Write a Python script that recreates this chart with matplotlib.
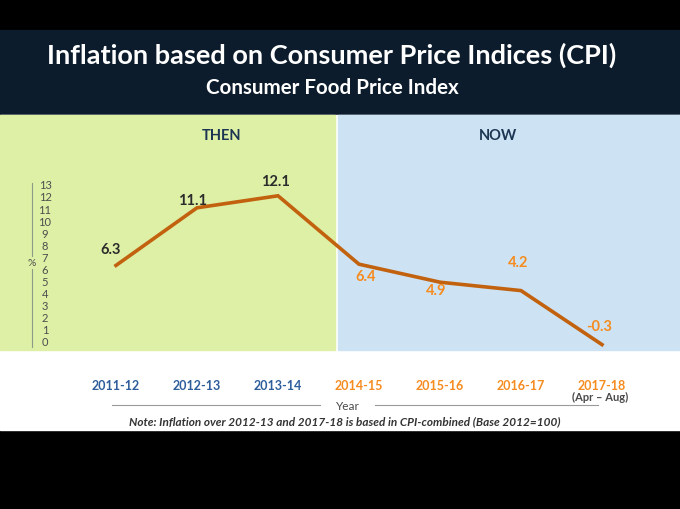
import matplotlib
matplotlib.use("Agg")
import matplotlib.pyplot as plt
from matplotlib.patches import Rectangle
from matplotlib.lines import Line2D

plt.rcParams['font.family'] = ['Lato', 'DejaVu Sans']

# data
years = ['2011-12', '2012-13', '2013-14', '2014-15', '2015-16', '2016-17', '2017-18']
inflation = [6.3, 11.1, 12.1, 6.4, 4.9, 4.2, -0.3]
n_then = 3
yticks = list(range(0, 14))

W, H = 680, 509
def fx(px):
    return px / W
def fy(py):
    return 1 - py / H

fig = plt.figure(figsize=(6.8, 5.09), dpi=100, facecolor='black')

# fonds
fig.add_artist(Rectangle((0, fy(115)), 1, (115 - 30) / H, transform=fig.transFigure,
                         color='#0d1c2c', zorder=0))
fig.add_artist(Rectangle((0, fy(430)), 1, (430 - 115) / H, transform=fig.transFigure,
                         color='white', zorder=0))
fig.add_artist(Rectangle((0, fy(350)), fx(335), (350 - 115) / H, transform=fig.transFigure,
                         color='#ddf0a6', zorder=0))
fig.add_artist(Rectangle((fx(338), fy(350)), 1 - fx(338), (350 - 115) / H, transform=fig.transFigure,
                         color='#cde3f3', zorder=0))

fig.text(fx(332), fy(55), 'Inflation based on Consumer Price Indices (CPI)', color='white',
         fontsize=19.5, fontweight='bold', ha='center', va='center')
fig.text(fx(332), fy(88), 'Consumer Food Price Index', color='white',
         fontsize=14.8, fontweight='bold', ha='center', va='center')
fig.text(fx(222), fy(136), 'THEN', color='#1c3553', fontsize=10.5, fontweight='bold',
         ha='center', va='center')
fig.text(fx(498), fy(136), 'NOW', color='#1c3553', fontsize=10.5, fontweight='bold',
         ha='center', va='center')

# courbe
ylo, yhi = -0.5, 13.2
px_unit = 12
top_px = 185 - (yhi - 13) * px_unit
bot_px = 341 - ylo * px_unit
ax = fig.add_axes([fx(116), fy(bot_px), fx(602) - fx(116), (bot_px - top_px) / H])
ax.set_xlim(0, len(years) - 1)
ax.set_ylim(ylo, yhi)
ax.patch.set_alpha(0)
for s in ax.spines.values():
    s.set_visible(False)
xs = list(range(len(years)))
ax.plot(xs, inflation, color='#c2620f', lw=2.6, solid_joinstyle='miter', clip_on=False)

offsets = [(-4, 11), (-3, 5), (-2, 10), (5, -9.5), (-3, -6), (-2, 20), (-2, 13)]
for i, v in enumerate(inflation):
    col = '#2b2b2b' if i < n_then else '#f68b1f'
    ax.annotate(f'{v}', (xs[i], v), xytext=offsets[i], textcoords='offset points',
                ha='center', va='center', fontsize=10.5, fontweight='bold', color=col)

ax.set_yticks([])
ax.set_xticks(xs)
ax.set_xticklabels(years, fontsize=9, fontweight='bold')
ax.tick_params(axis='x', length=0, pad=24)
for i, lab in enumerate(ax.get_xticklabels()):
    lab.set_color('#2d5d9a' if i < n_then else '#f68b1f')
ax.annotate('(Apr – Aug)', (xs[-1], ylo), xytext=(-1.5, -36), textcoords='offset points',
            ha='center', va='center', fontsize=8, fontweight='bold', color='#4a4a4a',
            annotation_clip=False)

# axe des y
ay = fig.add_axes([fx(32), fy(bot_px), fx(45) - fx(32), (bot_px - top_px) / H])
ay.set_ylim(ylo, yhi)
ay.patch.set_alpha(0)
for k in ['top', 'right', 'bottom']:
    ay.spines[k].set_visible(False)
ay.spines['left'].set_color('#8c9a86')
ay.spines['left'].set_linewidth(0.8)
ay.set_xticks([])
ay.yaxis.tick_right()
ay.set_yticks(yticks)
ay.set_yticklabels([str(t) for t in yticks], fontsize=8, color='#4d4d4d')
ay.tick_params(axis='y', length=0, pad=0)
for lab in ay.get_yticklabels():
    lab.set_horizontalalignment('center')
ay.text(0, 6.5, '%', transform=ay.get_yaxis_transform(), ha='center', va='center',
        fontsize=7.5, color='#4d4d4d',
        bbox=dict(facecolor='#ddf0a6', edgecolor='none', pad=1))

# ligne "Year"
fig.add_artist(Line2D([fx(112), fx(320)], [fy(405), fy(405)], color='#9a9a9a', lw=0.8))
fig.add_artist(Line2D([fx(375), fx(598)], [fy(405), fy(405)], color='#9a9a9a', lw=0.8))
fig.text(fx(348), fy(406), 'Year', color='#4a4a4a', fontsize=8.5, ha='center', va='center')
fig.text(fx(345), fy(422),
         'Note: Inflation over 2012-13 and 2017-18 is based in CPI-combined (Base 2012=100)',
         color='#333333', fontsize=8.5, fontweight='bold', fontstyle='italic',
         ha='center', va='center')

fig.savefig('out.png', dpi=100, facecolor='black')
